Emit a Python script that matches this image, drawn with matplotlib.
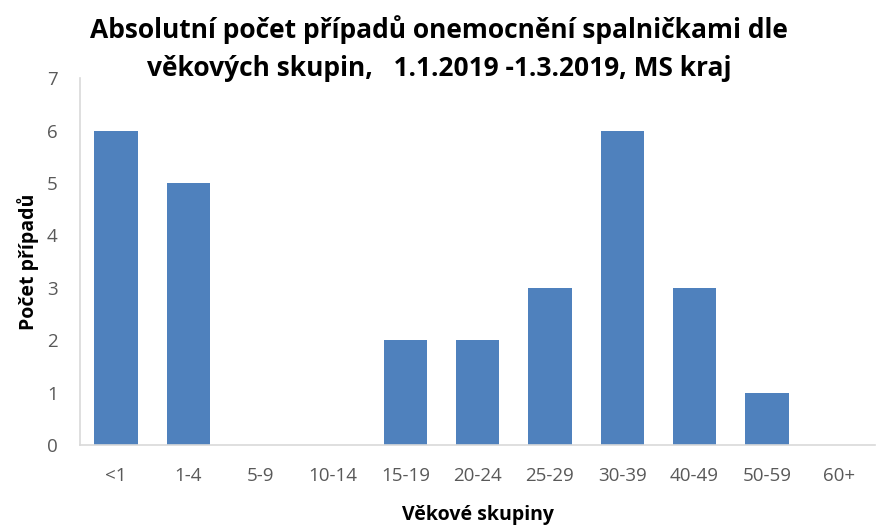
import matplotlib
matplotlib.use("Agg")
import matplotlib.pyplot as plt

plt.rcParams['font.family'] = ['Open Sans', 'DejaVu Sans']

age_groups = ["<1", "1-4", "5-9", "10-14", "15-19", "20-24", "25-29", "30-39", "40-49", "50-59", "60+"]
cases = [6, 5, 0, 0, 2, 2, 3, 6, 3, 1, 0]

fig = plt.figure(figsize=(8.78, 5.28), dpi=100)
ax = fig.add_axes([0.091, 0.157, 0.906, 0.695])

ax.bar(range(len(age_groups)), cases, width=0.6, color="#4F81BD")

ax.set_xlim(-0.5, len(age_groups) - 0.5)
ax.set_ylim(0, 7)
ax.set_yticks(range(0, 8))
ax.set_xticks(range(len(age_groups)))
ax.set_xticklabels(age_groups)

ax.tick_params(axis="both", length=0, colors="#595959", labelsize=13.5)
ax.tick_params(axis="x", pad=16)
ax.tick_params(axis="y", pad=16)

for side in ["top", "right"]:
    ax.spines[side].set_visible(False)
for side in ["left", "bottom"]:
    ax.spines[side].set_color("#D9D9D9")
    ax.spines[side].set_linewidth(1.2)

ax.set_xlabel("Věkové skupiny", fontsize=14, fontweight="bold", labelpad=14)
ax.set_ylabel("Počet případů", fontsize=14, fontweight="bold", labelpad=6)

fig.text(0.50, 0.972, "Absolutní počet případů onemocnění spalničkami dle\nvěkových skupin,   1.1.2019 -1.3.2019, MS kraj",
         ha="center", va="top", fontsize=19, fontweight="bold", linespacing=1.55)

fig.savefig("out.png", dpi=100)
